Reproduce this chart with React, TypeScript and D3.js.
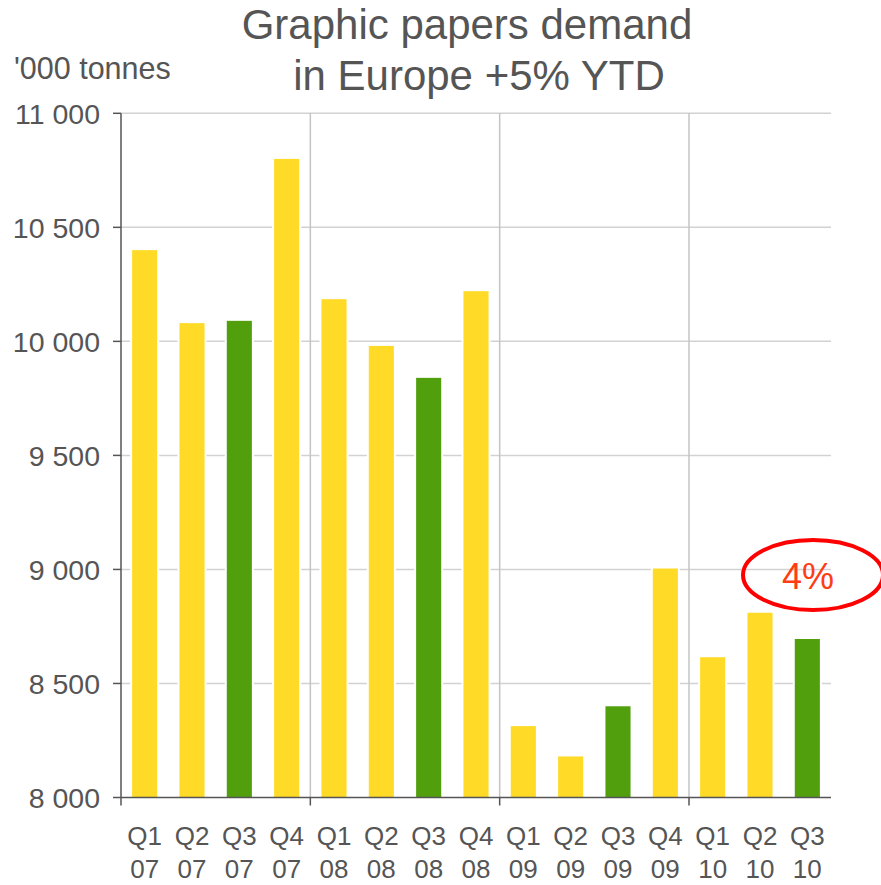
import React from "react";
import * as d3 from "d3";

// Quarterly demand for graphic papers, '000 tonnes
const quarters = ["Q1", "Q2", "Q3", "Q4", "Q1", "Q2", "Q3", "Q4", "Q1", "Q2", "Q3", "Q4", "Q1", "Q2", "Q3"];
const years = ["07", "07", "07", "07", "08", "08", "08", "08", "09", "09", "09", "09", "10", "10", "10"];
const demand = [10400, 10080, 10090, 10800, 10185, 9980, 9840, 10220, 8313, 8180, 8400, 9004, 8615, 8810, 8695];
const yTicks = [8000, 8500, 9000, 9500, 10000, 10500, 11000];
const yearBreaks = [4, 8, 12];
const titleLines = ["Graphic papers demand", "in Europe +5% YTD"];
const unitLabel = "'000 tonnes";
const calloutLabel = "4%";

const W = 881;
const H = 885;
const left = 121;
const right = 831;
const top = 113.3;
const bottom = 797.5;

const YELLOW = "#FFDA26";
const GREEN = "#519F0D";
const TEXT = "#555555";
const GRID = "#d2d2d2";
const AXIS = "#555555";
const FONT = "'Liberation Sans', Arial, sans-serif";

const fmt = (v: number) => {
  const s = String(v);
  return s.length > 3 ? s.slice(0, s.length - 3) + " " + s.slice(-3) : s;
};

export default function App() {
  const keys = quarters.map((q, i) => `${q}-${years[i]}-${i}`);
  const x = d3.scaleBand<string>().domain(keys).range([left, right]).paddingInner(0.47).paddingOuter(0.235);
  const y = d3.scaleLinear().domain([8000, 11000]).range([bottom, top]);
  const step = x.step();
  const bw = x.bandwidth();

  return (
    <svg
      width={W}
      height={H}
      style={{ position: "absolute", left: 0, top: 0, background: "#fff" }}
      fontFamily={FONT}
    >
      <rect x={0} y={0} width={W} height={H} fill="#fff" />

      {/* horizontal grid */}
      {yTicks.slice(1).map((t) => (
        <line key={`g${t}`} x1={left} x2={right} y1={y(t)} y2={y(t)} stroke={GRID} strokeWidth={1.5} />
      ))}

      {/* year separators */}
      {yearBreaks.map((k) => {
        const xv = left + k * step;
        return (
          <g key={`s${k}`}>
            <line x1={xv} x2={xv} y1={top} y2={bottom} stroke="#c4c4c4" strokeWidth={1.5} />
            <line x1={xv} x2={xv} y1={bottom} y2={bottom + 8} stroke={AXIS} strokeWidth={1.5} />
          </g>
        );
      })}

      {/* bars */}
      {demand.map((v, i) => {
        const bx = x(keys[i]) as number;
        const by = y(v);
        return (
          <g key={keys[i]}>
            <rect x={bx - 2} y={by - 1} width={bw + 4} height={bottom - by + 1} fill="#fff" />
            <rect x={bx} y={by} width={bw} height={bottom - by} fill={quarters[i] === "Q3" ? GREEN : YELLOW} />
          </g>
        );
      })}

      {/* y axis */}
      <line x1={left} x2={left} y1={top} y2={bottom + 8} stroke={AXIS} strokeWidth={1.5} />
      {yTicks.map((t) => (
        <g key={`t${t}`}>
          <line x1={left - 8} x2={left} y1={y(t)} y2={y(t)} stroke={AXIS} strokeWidth={1.5} />
          <text x={100} y={y(t)} dy="0.36em" textAnchor="end" fontSize={28.5} fill={TEXT}>
            {fmt(t)}
          </text>
        </g>
      ))}

      {/* x axis */}
      <line x1={left} x2={right} y1={bottom} y2={bottom} stroke={AXIS} strokeWidth={1.5} />
      {keys.map((k, i) => {
        const cx = (x(k) as number) + bw / 2;
        return (
          <g key={`l${k}`}>
            <text x={cx} y={845} textAnchor="middle" fontSize={26} fill={TEXT}>
              {quarters[i]}
            </text>
            <text x={cx} y={878} textAnchor="middle" fontSize={26} fill={TEXT}>
              {years[i]}
            </text>
          </g>
        );
      })}

      {/* title and unit */}
      <text x={467} y={39} textAnchor="middle" fontSize={42} fill={TEXT}>
        {titleLines[0]}
      </text>
      <text x={479} y={90} textAnchor="middle" fontSize={42} fill={TEXT}>
        {titleLines[1]}
      </text>
      <text x={14} y={79} fontSize={30.5} fill={TEXT}>
        {unitLabel}
      </text>

      {/* callout */}
      <ellipse cx={813} cy={575} rx={70} ry={35} fill="none" stroke="#ff0000" strokeWidth={4} />
      <text x={808} y={589} textAnchor="middle" fontSize={36} fill="#ff3c14">
        {calloutLabel}
      </text>
    </svg>
  );
}
